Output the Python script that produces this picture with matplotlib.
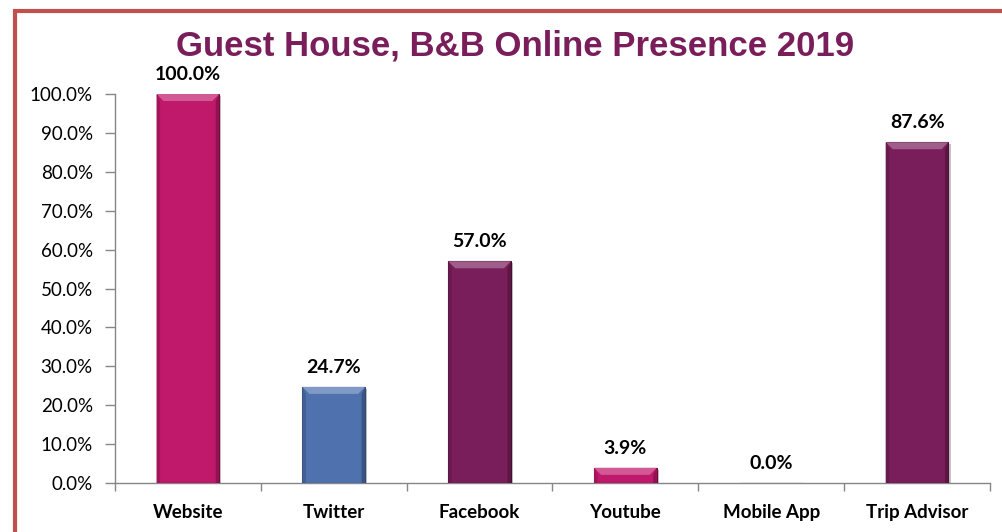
import matplotlib
matplotlib.use("Agg")
import matplotlib.pyplot as plt
import matplotlib.patches as mpatches
import matplotlib.patheffects as pe
from matplotlib.transforms import IdentityTransform
from matplotlib.colors import to_rgb
from matplotlib.ticker import FuncFormatter, FixedLocator

categories = ["Website", "Twitter", "Facebook", "Youtube", "Mobile App", "Trip Advisor"]
values = [100.0, 24.7, 57.0, 3.9, 0.0, 87.6]
bar_colors = ["#C0186B", "#4F71AE", "#7A1E5B", "#C0186B", "#4F71AE", "#7A1E5B"]
edge_colors = ["#6E0A3C", "#2E4670", "#45102F", "#6E0A3C", "#2E4670", "#45102F"]
title = "Guest House, B&B Online Presence 2019"
yticks = [0, 10, 20, 30, 40, 50, 60, 70, 80, 90, 100]

W, H = 1002, 532
fig = plt.figure(figsize=(W / 100, H / 100), dpi=100)
fig.patch.set_facecolor("white")

ax = fig.add_axes([115 / W, 49 / H, (990 - 115) / W, (483 - 94) / H])
x = list(range(len(categories)))
bars = ax.bar(x, values, width=0.43, color=bar_colors, edgecolor=edge_colors,
              linewidth=0.8, zorder=3)
for b in bars:
    b.set_path_effects([pe.SimplePatchShadow(offset=(1.5, -1.5), alpha=0.25), pe.Normal()])

ax.set_xlim(-0.5, len(categories) - 0.5)
ax.set_ylim(0, 100)
ax.yaxis.set_major_locator(FixedLocator(yticks))
ax.yaxis.set_major_formatter(FuncFormatter(lambda v, p: f"{v:.1f}%"))
ax.set_xticks(x)
ax.set_xticklabels(categories, fontsize=13.5, fontweight="bold", family="Lato")
ax.xaxis.set_minor_locator(FixedLocator([i - 0.5 for i in range(len(categories) + 1)]))
ax.tick_params(axis="x", which="major", length=0, pad=15)
ax.tick_params(axis="x", which="minor", length=6, color="#868686", width=1)
ax.tick_params(axis="y", length=7, color="#868686", width=1, pad=9, labelsize=13.5)
for lab in ax.get_yticklabels():
    lab.set_family("Lato")

for s in ["top", "right"]:
    ax.spines[s].set_visible(False)
for s in ["left", "bottom"]:
    ax.spines[s].set_color("#868686")
    ax.spines[s].set_linewidth(1)

for xi, v in zip(x, values):
    ax.annotate(f"{v:.1f}%", (xi, v), xytext=(0, 8), textcoords="offset points",
                ha="center", va="bottom", fontsize=14, fontweight="bold", family="Lato")

# bevel highlights derived from the drawn bars
fig.canvas.draw()
def mix(c, t, f):
    c = to_rgb(c); t = to_rgb(t)
    return tuple(c[i] * (1 - f) + t[i] * f for i in range(3))
for b, col in zip(bars, bar_colors):
    bb = b.get_window_extent()
    if bb.height < 1:
        continue
    bev = min(7, bb.height / 2)
    x0, x1, y0, y1 = bb.x0, bb.x1, bb.y0, bb.y1
    top = mpatches.Polygon([(x0, y1), (x1, y1), (x1 - bev, y1 - bev), (x0 + bev, y1 - bev)],
                           closed=True, transform=IdentityTransform(),
                           facecolor=mix(col, "white", 0.28), edgecolor="none", zorder=4)
    left = mpatches.Polygon([(x0, y0), (x0, y1), (x0 + bev * 0.5, y1 - bev), (x0 + bev * 0.5, y0)],
                            closed=True, transform=IdentityTransform(),
                            facecolor=mix(col, "black", 0.15), edgecolor="none", zorder=4)
    right = mpatches.Polygon([(x1, y0), (x1, y1), (x1 - bev * 0.5, y1 - bev), (x1 - bev * 0.5, y0)],
                             closed=True, transform=IdentityTransform(),
                             facecolor=mix(col, "black", 0.25), edgecolor="none", zorder=4)
    for p in (top, left, right):
        fig.artists.append(p)
        p.set_figure(fig)

fig.text(515 / W, 1 - 46 / H, title, ha="center", va="center", fontsize=25,
         fontweight="bold", color="#7A1E5B", family="Liberation Sans")

border = mpatches.Rectangle((14.5 / W, -0.2), 1.2, 1 - 10.5 / H + 0.2,
                            transform=fig.transFigure, fill=False,
                            edgecolor="#C0504D", linewidth=3, zorder=10)
fig.patches.append(border)

fig.savefig("out.png", dpi=100)
